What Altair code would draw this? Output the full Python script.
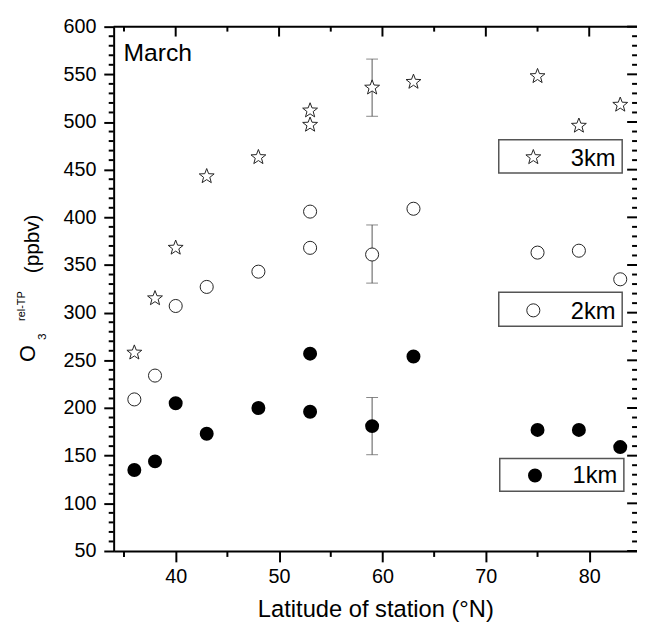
import math
import altair as alt
import pandas as pd

# ---------------- data ----------------
lat = [36, 38, 40, 43, 48, 53, 53, 59, 63, 75, 79, 83]
o3_3km = [258, 315, 368, 443, 463, 512, 497, 536, 542, 548, 496, 518]
o3_2km = [209, 234, 307, 327, 343, 406, 368, 361, 409, 363, 365, 335]
o3_1km = [135, 144, 205, 173, 200, 257, 196, 181, 254, 177, 177, 159]

err_lat = [59, 59, 59]
err_low = [506, 331, 151]
err_high = [566, 392, 211]

x_major = [40, 50, 60, 70, 80]
x_minor = [35, 45, 55, 65, 75]
y_major = [50, 100, 150, 200, 250, 300, 350, 400, 450, 500, 550, 600]
y_minor = [v for v in range(60, 600, 10) if v % 50 != 0]

legend_labels = ["3km", "2km", "1km"]
panel_label = "March"
x_title = "Latitude of station (°N)"

# ---------------- layout / style ----------------
FONT = "Liberation Sans"
W, H = 530, 531
PX_PER_DEG = 10.47
x_scale = alt.Scale(domain=[34, 34 + W / PX_PER_DEG], nice=False, zero=False)
y_scale = alt.Scale(domain=[50, 600], nice=False, zero=False)

pts = []
for k in range(10):
    r = 1.0 if k % 2 == 0 else 0.42
    a = math.radians(-90 + 36 * k)
    pts.append(f"{r * math.cos(a):.4f},{r * math.sin(a):.4f}")
STAR = "M" + " L".join(pts) + " Z"

df = pd.DataFrame({"lat": lat, "o3_3km": o3_3km, "o3_2km": o3_2km, "o3_1km": o3_1km})
err_df = pd.DataFrame({"lat": err_lat, "low": err_low, "high": err_high})
dummy = pd.DataFrame({"d": [0]})

axis_x = alt.Axis(values=x_major, title=x_title, format="d", grid=False,
                  tickSize=11, tickWidth=2, tickColor="black",
                  domainColor="black", domainWidth=2,
                  labelFont=FONT, labelFontSize=20, labelColor="black",
                  labelPadding=5, labelFlush=False,
                  titleFont=FONT, titleFontSize=24, titleFontWeight="normal",
                  titleColor="black", titleBaseline="alphabetic", titleY=66)
axis_y = alt.Axis(values=y_major, title=None, format="d", grid=False,
                  tickSize=10, tickWidth=2, tickColor="black",
                  domainColor="black", domainWidth=2,
                  labelFont=FONT, labelFontSize=20, labelColor="black",
                  labelPadding=8, labelFlush=False)

X = lambda f: alt.X(f, type="quantitative", scale=x_scale, axis=axis_x, title=x_title)
Y = lambda f: alt.Y(f, type="quantitative", scale=y_scale, axis=axis_y, title=None)

# error bars
err_rule = alt.Chart(err_df).mark_rule(color="#555", strokeWidth=1).encode(
    x=X("lat"), y=Y("low"), y2="high")
cap_lo = alt.Chart(err_df).mark_tick(orient="horizontal", size=12, thickness=1, color="#555").encode(
    x=X("lat"), y=Y("low"))
cap_hi = alt.Chart(err_df).mark_tick(orient="horizontal", size=12, thickness=1, color="#555").encode(
    x=X("lat"), y=Y("high"))

# points
p1 = alt.Chart(df).mark_circle(size=200, color="black", opacity=1).encode(
    x=X("lat"), y=Y("o3_1km"))
p2 = alt.Chart(df).mark_point(shape="circle", size=175, filled=True, fill="white",
                              stroke="#222", strokeWidth=1, opacity=1).encode(
    x=X("lat"), y=Y("o3_2km"))
p3 = alt.Chart(df).mark_point(shape=STAR, size=250, filled=True, fill="white",
                              stroke="#222", strokeWidth=1, opacity=1).encode(
    x=X("lat"), y=Y("o3_3km"))

# minor / mirrored ticks
ymin_df = pd.DataFrame({"v": y_minor})
ymaj_df = pd.DataFrame({"v": y_major})
xmin_df = pd.DataFrame({"v": x_minor})
xmaj_df = pd.DataFrame({"v": x_major})
tk = dict(color="black", strokeWidth=2)
left_minor = alt.Chart(ymin_df).mark_rule(**tk).encode(y=Y("v"), x=alt.value(-5), x2=alt.value(0))
right_minor = alt.Chart(ymin_df).mark_rule(**tk).encode(y=Y("v"), x=alt.value(W - 5), x2=alt.value(W))
right_major = alt.Chart(ymaj_df).mark_rule(**tk).encode(y=Y("v"), x=alt.value(W - 10), x2=alt.value(W))
bottom_minor = alt.Chart(xmin_df).mark_rule(**tk).encode(x=X("v"), y=alt.value(H), y2=alt.value(H + 6))
top_minor = alt.Chart(xmin_df).mark_rule(**tk).encode(x=X("v"), y=alt.value(0), y2=alt.value(5))
top_major = alt.Chart(xmaj_df).mark_rule(**tk).encode(x=X("v"), y=alt.value(0), y2=alt.value(10))
top_line = alt.Chart(dummy).mark_rule(**tk).encode(x=alt.value(0), x2=alt.value(W), y=alt.value(0))

# legend boxes
def legend_box(y0, y1, x0, x1):
    return alt.Chart(dummy).mark_rect(fill="white", stroke="#555", strokeWidth=1.5).encode(
        x=alt.value(x0), x2=alt.value(x1), y=alt.value(y0), y2=alt.value(y1))

def legend_text(label, x, y):
    return alt.Chart(dummy).mark_text(align="right", baseline="alphabetic", font=FONT,
                                      fontSize=24, color="black").encode(
        x=alt.value(x), y=alt.value(y), text=alt.value(label))

box3 = legend_box(114.6, 148.3, 390, 515)
box2 = legend_box(269, 303.3, 390, 515)
box1 = legend_box(437.3, 470.6, 391, 516.7)
sym3 = alt.Chart(dummy).mark_point(shape=STAR, size=250, filled=True, fill="white",
                                   stroke="#222", strokeWidth=1, opacity=1).encode(
    x=alt.value(425), y=alt.value(132.3))
sym2 = alt.Chart(dummy).mark_point(shape="circle", size=175, filled=True, fill="white",
                                   stroke="#222", strokeWidth=1, opacity=1).encode(
    x=alt.value(425), y=alt.value(287.3))
sym1 = alt.Chart(dummy).mark_circle(size=200, color="black", opacity=1).encode(
    x=alt.value(426.7), y=alt.value(454.6))
txt3 = legend_text(legend_labels[0], 508.3, 140.6)
txt2 = legend_text(legend_labels[1], 508.3, 295.6)
txt1 = legend_text(legend_labels[2], 510, 462.3)

march = alt.Chart(dummy).mark_text(align="left", baseline="alphabetic", font=FONT,
                                   fontSize=25, color="black").encode(
    x=alt.value(10), y=alt.value(34.3), text=alt.value(panel_label))

# y-axis title built from pieces: O, subscript 3, superscript rel-TP, (ppbv)
def rot_text(label, x, y, size, baseline="alphabetic"):
    return alt.Chart(dummy).mark_text(angle=270, align="center", baseline=baseline,
                                      font=FONT, fontSize=size, color="black").encode(
        x=alt.value(x), y=alt.value(y), text=alt.value(label))

t_O = rot_text("O", -80, 331, 22)
t_3 = rot_text("3", -68.3, 314, 12)
t_rel = rot_text("rel-TP", -90, 283, 11)
t_ppbv = rot_text("(ppbv)", -76, 220, 21)

chart = alt.layer(
    err_rule, cap_lo, cap_hi, p1, p2, p3,
    left_minor, right_minor, right_major, bottom_minor, top_minor, top_major, top_line,
    box3, box2, box1, sym3, sym2, sym1, txt3, txt2, txt1,
    march, t_O, t_3, t_rel, t_ppbv,
).properties(
    width=W, height=H,
    padding={"left": 107, "top": 15, "right": 0, "bottom": 68},
    autosize=alt.AutoSizeParams(type="none"),
).configure_view(stroke=None)

chart.save("out.html", embed_options={"renderer": "svg", "actions": False})
